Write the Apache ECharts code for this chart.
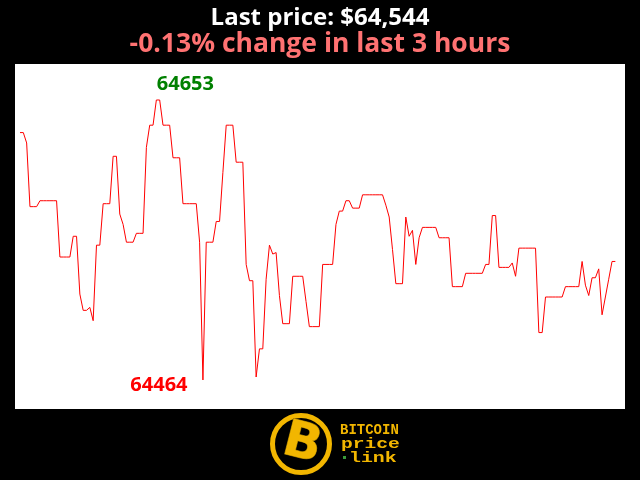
<!DOCTYPE html>
<html>
<head>
<meta charset="utf-8">
<script src="https://cdn.jsdelivr.net/npm/echarts@6/dist/echarts.min.js"></script>
<style>
html,body{margin:0;padding:0;background:#000;}
#chart{width:640px;height:480px;}
</style>
</head>
<body>
<div id="chart"></div>
<script>
// Minutes over the last 3 hours (index of each sample)
const minutes = Array.from({length: 180}, (_, i) => i);
// BTC price per minute
const prices = [
  64631,64631,64624,64581,64581,64581,64585,64585,64585,64585,
  64585,64585,64547,64547,64547,64547,64561,64561,64522,64511,
  64511,64513,64504,64555,64555,64583,64583,64583,64615,64615,
  64576,64569,64557,64557,64557,64563,64563,64563,64621,64636,
  64636,64653,64653,64636,64636,64636,64614,64614,64614,64583,
  64583,64583,64583,64583,64557,64464,64557,64557,64557,64571,
  64571,64604,64636,64636,64636,64611,64611,64611,64542,64531,
  64531,64466,64485,64485,64532,64555,64549,64550,64521,64502,
  64502,64502,64534,64534,64534,64534,64517,64500,64500,64500,
  64500,64542,64542,64542,64542,64569,64578,64578,64585,64585,
  64580,64580,64580,64589,64589,64589,64589,64589,64589,64589,
  64582,64574,64552,64529,64529,64529,64574,64561,64565,64542,
  64560,64567,64567,64567,64567,64567,64560,64560,64560,64560,
  64527,64527,64527,64527,64536,64536,64536,64536,64536,64536,
  64542,64542,64575,64575,64540,64540,64540,64540,64543,64534,
  64553,64553,64553,64553,64553,64553,64496,64496,64520,64520,
  64520,64520,64520,64520,64527,64527,64527,64527,64527,64544,
  64528,64521,64533,64533,64539,64508,64520,64532,64544,64544
];
const titleText = 'Last price: $64,544';
const subText = '-0.13% change in last 3 hours';

const chart = echarts.init(document.getElementById('chart'), null, {renderer: 'canvas'});
chart.setOption({
  backgroundColor: '#000',
  animation: false,
  title: [
    {text: titleText, left: 'center', top: 1,
     textStyle: {color: '#fff', fontFamily: 'Open Sans', fontWeight: 'bold', fontSize: 24}},
    {text: subText, left: 'center', top: 26,
     textStyle: {color: '#ff7272', fontFamily: 'Open Sans', fontWeight: 'bold', fontSize: 26.5}}
  ],
  grid: {left: 15, right: 15, top: 64, bottom: 71, show: true, backgroundColor: '#fff', borderWidth: 0},
  xAxis: {type: 'value', min: -1.5, max: 181.9, show: false},
  yAxis: {type: 'value', min: 64444.4, max: 64677.3, show: false, scale: true},
  series: [{
    type: 'line',
    data: minutes.map((m, i) => [m, prices[i]]),
    symbol: 'none',
    lineStyle: {color: '#ff0000', width: 1},
    markPoint: {
      symbol: 'circle', symbolSize: 1,
      itemStyle: {color: 'rgba(0,0,0,0)'},
      data: [
        {type: 'max', label: {show: true, position: 'inside', offset: [29, -16], color: '#008000',
          fontFamily: 'Open Sans', fontWeight: 'bold', fontSize: 20}},
        {type: 'min', label: {show: true, position: 'inside', offset: [-44, 5], color: '#ff0000',
          fontFamily: 'Open Sans', fontWeight: 'bold', fontSize: 20}}
      ]
    }
  }],
  graphic: [
    {type: 'circle', shape: {cx: 301, cy: 444, r: 28.5}, style: {fill: '#000', stroke: '#f2b600', lineWidth: 5}},
    {type: 'text', x: 302, y: 445, rotation: -0.25,
     style: {text: 'B', fill: '#f2b600', stroke: '#8a6a00', lineWidth: 1, font: 'bold 50px "DejaVu Sans"', align: 'center', verticalAlign: 'middle'}},
    {type: 'text', x: 340, y: 423,
     style: {text: 'BITCOIN', fill: '#f2b600', font: 'bold 14px "Liberation Mono"'}},
    {type: 'text', x: 341, y: 437, scaleX: 1.4,
     style: {text: 'price', fill: '#f2b600', font: 'bold 14px "Liberation Mono"'}},
    {type: 'rect', shape: {x: 343, y: 456, width: 3, height: 3}, style: {fill: '#3a9a3a'}},
    {type: 'text', x: 349, y: 451, scaleX: 1.42,
     style: {text: 'link', fill: '#f2b600', font: 'bold 14px "Liberation Mono"'}}
  ]
});
</script>
</body>
</html>
